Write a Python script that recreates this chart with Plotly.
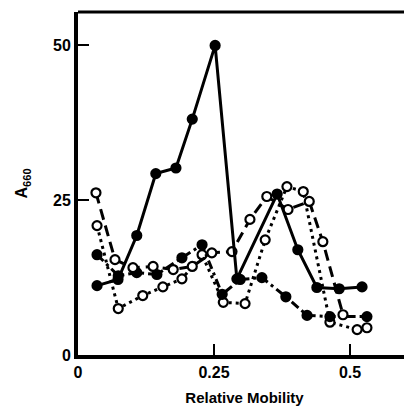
import plotly.graph_objects as go

# Relative mobility (x) and A660 (y) for each series
solid_x = [0.035, 0.0735, 0.108, 0.143, 0.180, 0.210, 0.252, 0.292, 0.366, 0.404, 0.439, 0.480, 0.522]
solid_y = [11.2, 12.2, 19.3, 29.3, 30.2, 38.1, 50.0, 12.3, 26.0, 17.0, 10.9, 10.7, 11.0]

dashed_x = [0.033, 0.068, 0.101, 0.138, 0.175, 0.210, 0.246, 0.283, 0.316, 0.347, 0.386, 0.425, 0.450, 0.487]
dashed_y = [26.2, 15.4, 14.1, 14.3, 13.8, 14.3, 16.5, 16.7, 21.9, 25.6, 23.5, 24.8, 18.3, 6.5]

dotted_x = [0.035, 0.074, 0.119, 0.156, 0.191, 0.228, 0.267, 0.307, 0.344, 0.384, 0.414, 0.463, 0.513, 0.531]
dotted_y = [20.9, 7.5, 9.6, 11.0, 12.3, 16.2, 8.5, 8.3, 18.6, 27.2, 26.4, 5.3, 4.1, 4.4]

dashdot_x = [0.035, 0.074, 0.108, 0.145, 0.191, 0.228, 0.265, 0.298, 0.338, 0.382, 0.421, 0.463, 0.531]
dashdot_y = [16.2, 12.8, 13.3, 13.0, 15.7, 17.8, 9.8, 12.2, 12.5, 9.4, 6.4, 6.2, 6.2]

x_ticks = [0, 0.25, 0.5]
x_tick_text = ["0", "0.25", "0.5"]
y_ticks = [0, 25, 50]
y_tick_text = ["0", "25", "50"]

X_MAX = 0.612
Y_MAX = 55.4

fig = go.Figure()

def add(xs, ys, dash, filled):
    fig.add_trace(go.Scatter(
        x=xs, y=ys, mode="lines+markers",
        line=dict(color="black", width=3, dash=dash),
        marker=dict(symbol="circle", size=9,
                    color="black" if filled else "white",
                    line=dict(color="black", width=2.2)),
        showlegend=False, cliponaxis=False))

add(dotted_x, dotted_y, "3px,4px", False)
add(dashdot_x, dashdot_y, "9px,4px,3px,4px", True)
add(dashed_x, dashed_y, "11px,6px", False)
add(solid_x, solid_y, "solid", True)

font_family = "Liberation Sans, Arial, sans-serif"

# page has an 8px body margin, so the figure is sized 404x402
fig.update_layout(
    width=404, height=402,
    margin=dict(l=70, r=1, t=4, b=55),
    paper_bgcolor="white", plot_bgcolor="white",
    font=dict(family=font_family, color="black", size=16),
    xaxis=dict(range=[0, X_MAX], tickvals=x_ticks, ticktext=x_tick_text, automargin=False,
               showgrid=False, zeroline=False, showline=True, linecolor="black", linewidth=4,
               ticks="inside", ticklen=11, tickwidth=2, tickcolor="black",
               tickfont=dict(size=16, weight="bold"),
               title=dict(text="Relative Mobility", font=dict(size=15, weight="bold"), standoff=13)),
    yaxis=dict(range=[0, Y_MAX], tickvals=y_ticks, ticktext=y_tick_text, automargin=False,
               showgrid=False, zeroline=False, showline=True, linecolor="black", linewidth=4,
               ticks="inside", ticklen=11, tickwidth=2, tickcolor="black",
               tickfont=dict(size=16, weight="bold"),
               title=dict(text="A<sub>660</sub>", font=dict(size=16, weight="bold"), standoff=22)),
)

# top frame line and partial right frame line
fig.add_shape(type="line", xref="paper", yref="paper", x0=0, x1=1, y0=1, y1=1,
              line=dict(color="black", width=3))
fig.add_shape(type="line", xref="x", yref="y", x0=X_MAX, x1=X_MAX, y0=Y_MAX, y1=33,
              line=dict(color="#444", width=1.5))

fig.write_html("out.html")
